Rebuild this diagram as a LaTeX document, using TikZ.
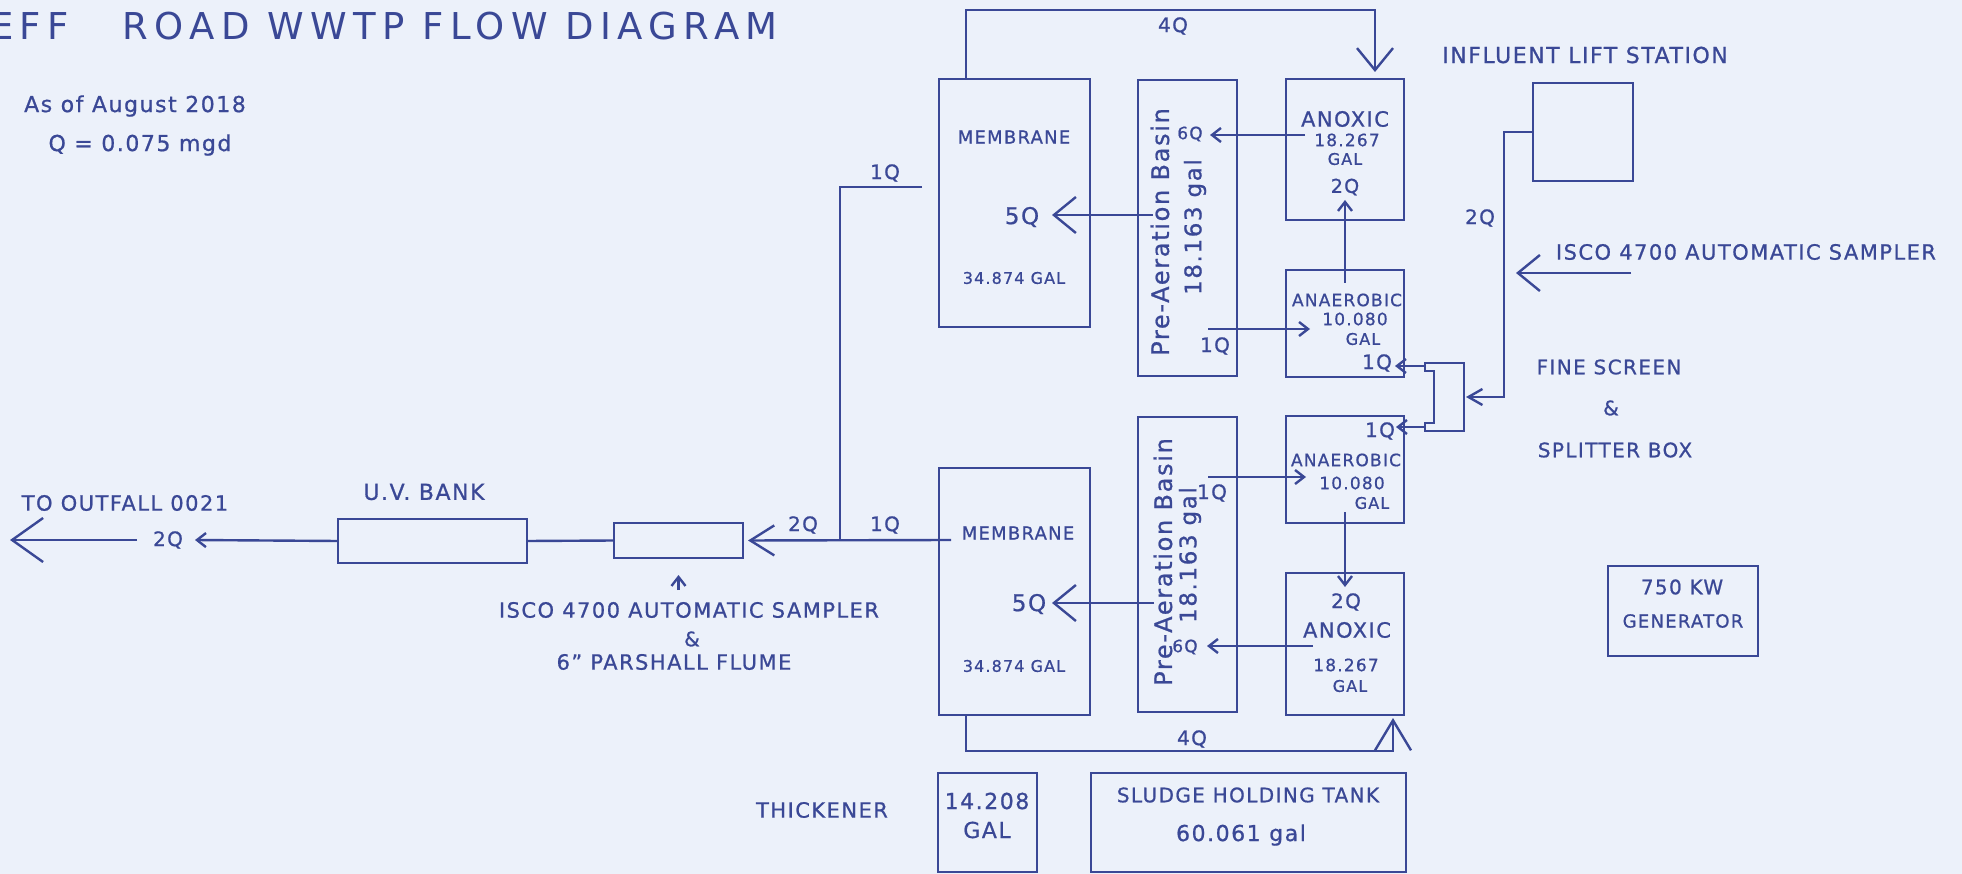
\documentclass[tikz,border=0pt]{standalone}
\usepackage{fontspec}
\setmainfont{DejaVu Sans}[LetterSpace=7, FakeBold=0.8]
\newfontfamily\titlefont{DejaVu Sans}[LetterSpace=17]
\usetikzlibrary{arrows.meta}
\definecolor{ink}{RGB}{58,72,150}
\definecolor{paper}{RGB}{236,241,250}
\newcommand{\fsz}[1]{\fontsize{#1}{#1}\selectfont}

\begin{document}
\begin{tikzpicture}[x=1pt, y=-1pt,
    tank/.style={draw=ink, line width=2.6pt, inner sep=0pt, outer sep=0pt},
    lbl/.style={text=ink, inner sep=0pt, font=\fsz{20}},
    flow/.style={draw=ink, line width=2.4pt},
    bigtip/.style={-{Straight Barb[length=22pt,width=36pt]}},
    smalltip/.style={-{Straight Barb[length=9pt,width=14pt]}}]

      \fill[paper] (0,0) rectangle (1962,874);
      \useasboundingbox (0,0) rectangle (1962,874);

      \node[lbl, anchor=west, font=\titlefont\fsz{37}] (title) at (-10,26) {EFF\hspace{54pt}ROAD WWTP FLOW DIAGRAM};
      \node[lbl, font=\fsz{22}] (asof) at (135,106) {As of August 2018};
      \node[lbl, font=\fsz{22}] (qflow) at (140,145) {Q = 0.075 mgd};

      \node[tank, minimum width=151pt, minimum height=248pt] (mem1) at (1014.5,203) {};
      \node[tank, minimum width=99pt, minimum height=296pt] (pa1) at (1187.5,228) {};
      \node[tank, minimum width=118pt, minimum height=141pt] (anox1) at (1345,149.5) {};
      \node[tank, minimum width=118pt, minimum height=107pt] (anae1) at (1345,323.5) {};

      \node[tank, minimum width=151pt, minimum height=247pt] (mem2) at (1014.5,591.5) {};
      \node[tank, minimum width=99pt, minimum height=295pt] (pa2) at (1187.5,564.5) {};
      \node[tank, minimum width=118pt, minimum height=107pt] (anae2) at (1345,469.5) {};
      \node[tank, minimum width=118pt, minimum height=142pt] (anox2) at (1345,644) {};

      \node[tank, minimum width=100pt, minimum height=98pt] (lift) at (1583,132) {};
      \node[tank, minimum width=189pt, minimum height=44pt] (uv) at (432.5,541) {};
      \node[tank, minimum width=129pt, minimum height=35pt] (flume) at (678.5,540.5) {};
      \node[tank, minimum width=99pt, minimum height=99pt] (thick) at (987.5,822.5) {};
      \node[tank, minimum width=315pt, minimum height=99pt] (sludge) at (1248.5,822.5) {};
      \node[tank, minimum width=150pt, minimum height=90pt] (gen) at (1683,611) {};
      \node[minimum width=39pt, minimum height=68pt, inner sep=0pt, outer sep=0pt] (split) at (1444.5,397) {};
      \draw[flow] (split.north west) -- (split.north east) -- (split.south east) -- (split.south west)
            -- ++(0,-8) -- ++(9,0) -- ++(0,-52) -- ++(-9,0) -- cycle;

      \node[lbl, font=\fsz{18}] (mem1name) at (1014,137) {MEMBRANE};
      \node[lbl, font=\fsz{23}] (q5a) at (1022,217) {5Q};
      \node[lbl, font=\fsz{16}] (mem1vol) at (1014,278) {34.874 GAL};
      \node[lbl, rotate=90, font=\fsz{24}] (pa1name) at (1160,232) {Pre-Aeration Basin};
      \node[lbl, rotate=90, font=\fsz{23}] (pa1vol) at (1195,227) {18.163 gal};
      \node[lbl, font=\fsz{17}] (q6a) at (1190,134) {6Q};
      \node[lbl] (q4top) at (1173,26) {4Q};
      \node[lbl, font=\fsz{21}] (anox1name) at (1345,119) {ANOXIC};
      \node[lbl, font=\fsz{17}] (anox1vol) at (1347,140) {18.267};
      \node[lbl, font=\fsz{16}] (anox1gal) at (1345,159) {GAL};
      \node[lbl, font=\fsz{19}] (q2a) at (1345,187) {2Q};
      \node[lbl, font=\fsz{17}] (anae1name) at (1347,300) {ANAEROBIC};
      \node[lbl, font=\fsz{17}] (anae1vol) at (1355,319) {10.080};
      \node[lbl, font=\fsz{16}] (anae1gal) at (1363,339) {GAL};
      \node[lbl] (q1s1) at (1377,363) {1Q};
      \node[lbl] (q1a) at (1215,346) {1Q};

      \node[lbl, font=\fsz{18}] (mem2name) at (1018,533) {MEMBRANE};
      \node[lbl, font=\fsz{23}] (q5b) at (1029,604) {5Q};
      \node[lbl, font=\fsz{16}] (mem2vol) at (1014,666) {34.874 GAL};
      \node[lbl, rotate=90, font=\fsz{24}] (pa2name) at (1163,562) {Pre-Aeration Basin};
      \node[lbl, rotate=90, font=\fsz{23}] (pa2vol) at (1190,555) {18.163 gal};
      \node[lbl] (q1b) at (1212,493) {1Q};
      \node[lbl] (q1s2) at (1380,431) {1Q};
      \node[lbl, font=\fsz{17}] (anae2name) at (1346,460) {ANAEROBIC};
      \node[lbl, font=\fsz{17}] (anae2vol) at (1352,483) {10.080};
      \node[lbl, font=\fsz{16}] (anae2gal) at (1372,503) {GAL};
      \node[lbl] (q2b) at (1346,602) {2Q};
      \node[lbl, font=\fsz{21}] (anox2name) at (1347,630) {ANOXIC};
      \node[lbl, font=\fsz{17}] (anox2vol) at (1346,665) {18.267};
      \node[lbl, font=\fsz{16}] (anox2gal) at (1350,686) {GAL};
      \node[lbl, font=\fsz{17}] (q6b) at (1185,647) {6Q};
      \node[lbl] (q4bot) at (1192,739) {4Q};

      \node[lbl, font=\fsz{21}] (thickname) at (822,810) {THICKENER};
      \node[lbl, font=\fsz{22}] (thickvol) at (987,801) {14.208};
      \node[lbl, font=\fsz{22}] (thickgal) at (987,830) {GAL};
      \node[lbl] (sludgename) at (1248,795) {SLUDGE HOLDING TANK};
      \node[lbl, font=\fsz{22}] (sludgevol) at (1241,835) {60.061 gal};
      \node[lbl] (genkw) at (1682,587) {750 KW};
      \node[lbl, font=\fsz{18}] (genname) at (1683,621) {GENERATOR};

      \node[lbl, font=\fsz{22}] (liftname) at (1585,55) {INFLUENT LIFT STATION};
      \node[lbl] (q2in) at (1480,218) {2Q};
      \node[lbl, font=\fsz{21}] (iscoin) at (1746,252) {ISCO 4700 AUTOMATIC SAMPLER};
      \node[lbl] (screen) at (1609,367) {FINE SCREEN};
      \node[lbl] (amp1) at (1611,408) {\&};
      \node[lbl] (splitname) at (1615,450) {SPLITTER BOX};

      \node[lbl, font=\fsz{21}] (outfall) at (125,503) {TO OUTFALL 0021};
      \node[lbl, font=\fsz{22}] (uvname) at (424,492) {U.V. BANK};
      \node[lbl] (q2out) at (168,540) {2Q};
      \node[lbl] (q2eff) at (803,525) {2Q};
      \node[lbl] (q1eff) at (885,525) {1Q};
      \node[lbl] (q1up) at (885,173) {1Q};
      \node[lbl, font=\fsz{21}] (iscoout) at (689,610) {ISCO 4700 AUTOMATIC SAMPLER};
      \node[lbl] (amp2) at (692,639) {\&};
      \node[lbl, font=\fsz{21}] (flumename) at (674,662) {6'' PARSHALL FLUME};

      \coordinate (r1a) at (966,10);
      \coordinate (r1b) at (1375,10);
      \draw[flow, bigtip, shorten >=7pt] (mem1.north -| r1a) -- (r1a) -- (r1b) -- (anox1.north -| r1b);
      \coordinate (r2a) at (966,751);
      \coordinate (r2b) at (1393,751);
      \draw[flow, -{Straight Barb[length=30pt,width=36pt]}, shorten >=3pt] (mem2.south -| r2a) -- (r2a) -- (r2b) -- (anox2.south -| r2b);

      \coordinate (p5a) at (1153,215);
      \coordinate (t5a) at (1052,215);
      \draw[flow, bigtip] (p5a) -- (t5a);
      \coordinate (p6a) at (1305,135);
      \coordinate (t6a) at (1210,135);
      \draw[flow, smalltip] (p6a) -- (t6a);
      \coordinate (p1a) at (1208,329);
      \coordinate (t1a) at (1310,329);
      \draw[flow, smalltip] (p1a) -- (t1a);
      \draw[flow, smalltip] ([yshift=-13pt]anae1.north) -- ([yshift=20pt]anox1.south);

      \coordinate (p1b) at (1208,477);
      \coordinate (t1b) at (1306,477);
      \draw[flow, smalltip] (p1b) -- (t1b);
      \draw[flow, smalltip] ([yshift=11pt]anae2.south) -- ([yshift=-14pt]anox2.north);
      \coordinate (p5b) at (1154,603);
      \coordinate (t5b) at (1052,603);
      \draw[flow, bigtip] (p5b) -- (t5b);
      \coordinate (p6b) at (1313,646);
      \coordinate (t6b) at (1207,646);
      \draw[flow, smalltip] (p6b) -- (t6b);

      \coordinate (feed) at (1504,397);
      \draw[flow, -{Straight Barb[length=14pt,width=16pt]}, shorten >=2pt] (lift.west) -| (feed) -- (split.east);
      \coordinate (t1s) at (1395,366);
      \coordinate (t2s) at (1396,427);
      \draw[flow, smalltip] ([yshift=-3pt]split.north west) -- (t1s);
      \draw[flow, smalltip] ([yshift=4pt]split.south west) -- (t2s);
      \coordinate (iscotail) at (1631,273);
      \coordinate (iscotip) at (1516,273);
      \draw[flow, bigtip] (iscotail) -- (iscotip);

      \coordinate (eff) at (951,540);
      \coordinate (jn) at (840,540);
      \coordinate (jt) at (840,187);
      \coordinate (e1) at (922,187);
      \draw[flow] (e1) -- (jt) -- (jn);
      \draw[flow, -{Straight Barb[length=24pt,width=30pt]}, shorten >=5pt] (eff) -- (flume.east);
      \draw[flow] (flume.west) -- (uv.east);
      \coordinate (t2o) at (195,540);
      \draw[flow, smalltip] (uv.west) -- (t2o);
      \coordinate (o1) at (137,540);
      \coordinate (o2) at (10,540);
      \draw[flow, -{Straight Barb[length=31pt,width=44pt]}] (o1) -- (o2);
      \draw[flow, smalltip] ([yshift=-32pt]flume.south) -- ([yshift=-17pt]flume.south);

    \end{tikzpicture}
\end{document}
